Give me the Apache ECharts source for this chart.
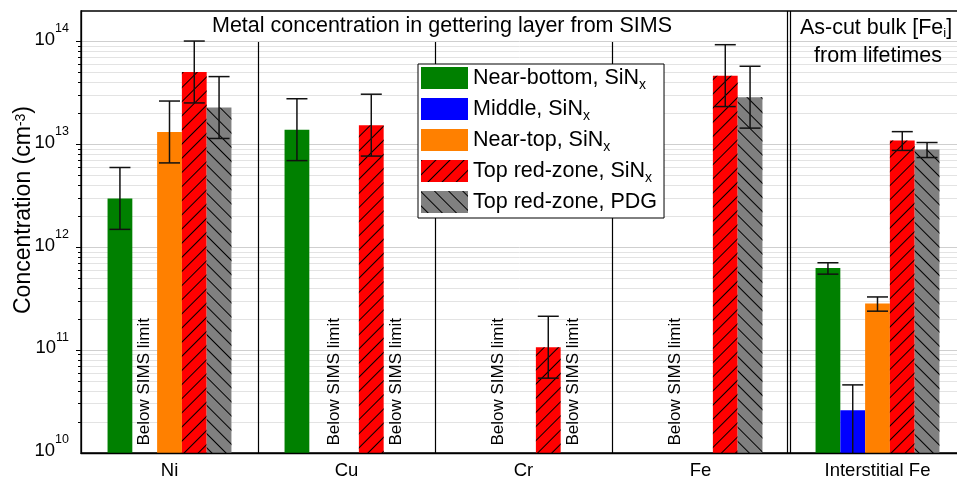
<!DOCTYPE html>
<html>
<head>
<meta charset="utf-8">
<script src="https://cdn.jsdelivr.net/npm/echarts@6/dist/echarts.min.js"></script>
<style>
  html, body { margin: 0; padding: 0; background: #fff; }
  #chart { width: 957px; height: 479px; }
</style>
</head>
<body>
<div id="chart"></div>
<script>
// Metal concentrations (cm^-3) per element and wafer region
const categories = ['Ni', 'Cu', 'Cr', 'Fe', 'Interstitial Fe'];
const seriesNames = ['Near-bottom, SiNx', 'Middle, SiNx', 'Near-top, SiNx', 'Top red-zone, SiNx', 'Top red-zone, PDG'];

const nearBottom = [3.0e12, 1.4e13, null, null, 6.3e11];
const middle     = [null, null, null, null, 2.6e10];
const nearTop    = [1.33e13, null, null, null, 2.85e11];
const topRedSiN  = [5.1e13, 1.55e13, 1.07e11, 4.7e13, 1.1e13];
const topRedPDG  = [2.3e13, null, null, 2.9e13, 9.0e12];

// error bar bounds [low, high] per category
const nearBottomErr = [[1.5e12, 6.0e12], [7.0e12, 2.8e13], null, null, [5.5e11, 7.1e11]];
const middleErr     = [null, null, null, null, [6.0e9, 4.6e10]];
const nearTopErr    = [[6.65e12, 2.66e13], null, null, null, [2.4e11, 3.3e11]];
const topRedSiNErr  = [[2.55e13, 1.02e14], [7.75e12, 3.1e13], [5.35e10, 2.14e11], [2.35e13, 9.4e13], [8.8e12, 1.34e13]];
const topRedPDGErr  = [[1.15e13, 4.6e13], null, null, [1.45e13, 5.8e13], [7.5e12, 1.05e13]];

// "Below SIMS limit" notes: [category index, bar slot]
const belowLimitNotes = [[0, 1], [1, 1.5], [1, 4], [2, 1], [2, 4], [3, 1]];
const noteText = 'Below SIMS limit';

const yMin = 1e10, yMax = 2e14;
const decades = [10, 11, 12, 13];

const FONT = 'Liberation Sans, Arial, sans-serif';
const colors = ['#008000', '#0000ff', '#ff8000', '#ff0000', '#808080'];
const values = [nearBottom, middle, nearTop, topRedSiN, topRedPDG];
const errors = [nearBottomErr, middleErr, nearTopErr, topRedSiNErr, topRedPDGErr];

const hatch = (rot) => ({
  symbol: 'rect', symbolSize: 1, color: '#000',
  dashArrayX: [1, 0], dashArrayY: [1, 9], rotation: rot
});
const decals = [null, null, null, hatch(-Math.PI / 4), hatch(Math.PI / 4)];

// grid lines and ticks of the log axis (major at 10^n, minor at m*10^n)
const gridLineData = [];
decades.forEach(e => {
  for (let m = 1; m <= 9; m++) {
    const v = m * Math.pow(10, e);
    if (v > yMin) gridLineData.push([0, v, m === 1 ? 1 : 0]);
  }
});
gridLineData.push([0, 1e14, 1]);

const errorData = [];
errors.forEach((arr, s) => arr.forEach((e, c) => { if (e) errorData.push([c, s, e[0], e[1]]); }));

const BAR_FRACTION = 0.7;
function slotX(api, cat, slot, v) {
  const c0 = api.coord([0, v])[0], c1 = api.coord([1, v])[0];
  const band = c1 - c0;
  const w = band * BAR_FRACTION / seriesNames.length;
  return api.coord([cat, v])[0] + (slot - (seriesNames.length - 1) / 2) * w;
}
const crisp = (v) => Math.round(v - 0.5) + 0.5;

const barSeries = seriesNames.map((name, i) => ({
  name, type: 'bar', data: values[i], z: 2,
  barGap: '0%', barCategoryGap: '30%',
  itemStyle: Object.assign({ color: colors[i] }, decals[i] ? { decal: decals[i] } : {}),
  emphasis: { disabled: true }
}));

const chart = echarts.init(document.getElementById('chart'), null, { renderer: 'canvas' });
chart.setOption({
  animation: false,
  textStyle: { fontFamily: FONT },
  grid: {
    left: 81, top: 11, right: -9, bottom: 26,
    show: true, borderColor: '#000', borderWidth: 1.3,
    containLabel: false, outerBoundsMode: 'none'
  },
  legend: {
    orient: 'vertical', left: 418, top: 64,
    itemWidth: 47, itemHeight: 22, itemGap: 6,
    padding: [3, 7, 5, 3],
    backgroundColor: '#fff', borderColor: '#000', borderWidth: 1,
    icon: 'rect', data: seriesNames, selectedMode: false,
    formatter: (n) => n.endsWith('SiNx') ? '{n|' + n.slice(0, -1) + '}{sub|x}' : '{n|' + n + '}',
    textStyle: {
      rich: {
        n: { fontSize: 21.5, lineHeight: 28, color: '#000', fontFamily: FONT },
        sub: { fontSize: 14, color: '#000', fontFamily: FONT, verticalAlign: 'bottom' }
      }
    }
  },
  xAxis: {
    type: 'category', data: categories, z: 10,
    axisTick: { show: false },
    axisLine: { lineStyle: { color: '#000', width: 1.3 } },
    axisLabel: { fontSize: 18.5, color: '#000', margin: 8, fontFamily: FONT },
    splitLine: { show: false }
  },
  yAxis: {
    type: 'log', logBase: 10, min: yMin, max: yMax, z: 10,
    axisLine: { show: true, lineStyle: { color: '#000', width: 1.3 } },
    axisTick: { show: false },
    splitLine: { show: false },
    axisLabel: {
      margin: 12, color: '#000', padding: [0, 0, 12, 0],
      formatter: (v) => {
        const e = Math.log10(v);
        if (Math.abs(e - Math.round(e)) > 1e-6) return '';
        return '{b|10}{s|' + Math.round(e) + '}';
      },
      rich: {
        b: { fontSize: 18.5, lineHeight: 18, verticalAlign: 'bottom', color: '#000', fontFamily: FONT },
        s: { fontSize: 12.5, lineHeight: 27, verticalAlign: 'top', color: '#000', fontFamily: FONT }
      }
    }
  },
  graphic: [
    {
      type: 'text', x: 442, y: 26, z: 20,
      style: { text: 'Metal concentration in gettering layer from SIMS', fontSize: 21.5, fontFamily: FONT, fill: '#000', align: 'center', verticalAlign: 'middle' }
    },
    {
      type: 'text', x: 876, y: 28, z: 20,
      style: {
        text: 'As-cut bulk [Fe{sub|i}]', fontSize: 21.5, lineHeight: 24, fontFamily: FONT, fill: '#000', align: 'center', verticalAlign: 'middle',
        rich: { sub: { fontSize: 13, fontFamily: FONT, fill: '#000', verticalAlign: 'bottom' } }
      }
    },
    {
      type: 'text', x: 878, y: 56, z: 20,
      style: { text: 'from lifetimes', fontSize: 21.5, fontFamily: FONT, fill: '#000', align: 'center', verticalAlign: 'middle' }
    },
    {
      type: 'text', x: 24, y: 210, rotation: Math.PI / 2, z: 20,
      style: {
        text: 'Concentration (cm{sup|-3})', fontSize: 23, lineHeight: 20, fontFamily: FONT, fill: '#000', align: 'center', verticalAlign: 'middle',
        rich: { sup: { fontSize: 14, fontFamily: FONT, fill: '#000', verticalAlign: 'top' } }
      }
    }
  ],
  series: [
    {
      type: 'custom', name: 'gridlines', z: 1, silent: true, clip: false,
      data: gridLineData,
      encode: { x: 0, y: 1 },
      renderItem: (params, api) => {
        const cs = params.coordSys;
        const y = crisp(api.coord([0, api.value(1)])[1]);
        const major = api.value(2) === 1;
        return {
          type: 'group', children: [
            { type: 'line', shape: { x1: cs.x, y1: y, x2: cs.x + cs.width, y2: y }, style: { stroke: major ? '#cfcfcf' : '#e3e3e3', lineWidth: 1 } },
            { type: 'line', shape: { x1: cs.x - (major ? 5 : 3), y1: y, x2: cs.x, y2: y }, style: { stroke: '#000', lineWidth: 1 } }
          ]
        };
      }
    },
    ...barSeries,
    {
      type: 'custom', name: 'errorbars', z: 4, silent: true, clip: true,
      data: errorData,
      encode: { x: 0, y: [2, 3] },
      renderItem: (params, api) => {
        const cat = api.value(0), slot = api.value(1);
        const lo = api.value(2), hi = api.value(3);
        const x = slotX(api, cat, slot, hi);
        const yLo = api.coord([cat, lo])[1], yHi = api.coord([cat, hi])[1];
        const hw = 10.5;
        const st = { stroke: '#111', lineWidth: 1.5 };
        return {
          type: 'group', children: [
            { type: 'line', shape: { x1: x, y1: yLo, x2: x, y2: yHi }, style: st },
            { type: 'line', shape: { x1: x - hw, y1: yLo, x2: x + hw, y2: yLo }, style: st },
            { type: 'line', shape: { x1: x - hw, y1: yHi, x2: x + hw, y2: yHi }, style: st }
          ]
        };
      }
    },
    {
      type: 'custom', name: 'sections', z: 3, silent: true, clip: false,
      data: [[0, 1e14, 1], [1, 1e14, 1], [2, 1e14, 1], [3, yMax, 2]],
      encode: { x: 0, y: 1 },
      renderItem: (params, api) => {
        const cat = api.value(0);
        const top = api.coord([cat, api.value(1)])[1];
        const bottom = api.coord([cat, yMin])[1];
        const xb = (api.coord([cat, yMin])[0] + api.coord([cat + 1, yMin])[0]) / 2;
        const st = { stroke: '#000', lineWidth: 1.2 };
        if (api.value(2) === 1) {
          return { type: 'line', shape: { x1: crisp(xb), y1: top, x2: crisp(xb), y2: bottom }, style: st };
        }
        return {
          type: 'group', children: [
            { type: 'line', shape: { x1: crisp(xb - 1.5), y1: top, x2: crisp(xb - 1.5), y2: bottom }, style: st },
            { type: 'line', shape: { x1: crisp(xb + 1.5), y1: top, x2: crisp(xb + 1.5), y2: bottom }, style: st }
          ]
        };
      }
    },
    {
      type: 'custom', name: 'notes', z: 4, silent: true, clip: false,
      data: belowLimitNotes,
      encode: { x: 0 },
      renderItem: (params, api) => {
        const cat = api.value(0), slot = api.value(1);
        const x = slotX(api, cat, slot, yMin);
        const y = api.coord([cat, yMin])[1] - 7.5;
        return {
          type: 'text', x, y, rotation: Math.PI / 2,
          style: { text: noteText, fontSize: 17, fontFamily: FONT, fill: '#000', align: 'left', verticalAlign: 'middle' }
        };
      }
    }
  ]
});
</script>
</body>
</html>
